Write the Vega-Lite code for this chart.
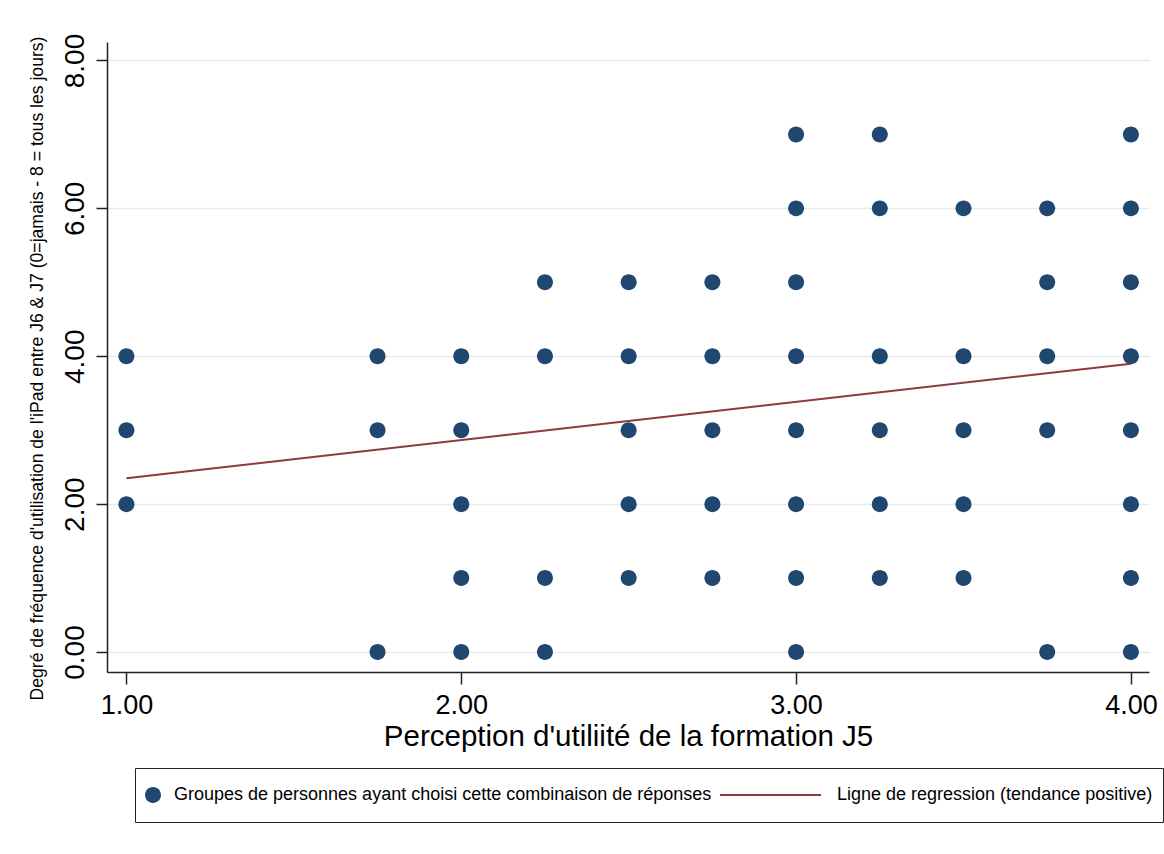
{
  "$schema": "https://vega.github.io/schema/vega-lite/v6.json",
  "width": 1042,
  "height": 630,
  "autosize": "none",
  "padding": {"left": 107, "top": 42, "right": 15, "bottom": 182},
  "background": "white",
  "config": {
    "view": {"stroke": null},
    "font": "Liberation Sans",
    "legend": {
      "title": null,
      "orient": "none",
      "legendX": 28,
      "legendY": 726,
      "direction": "horizontal",
      "columns": 2,
      "columnPadding": 8,
      "padding": 10,
      "strokeColor": "#222222",
      "fillColor": "#ffffff",
      "labelFontSize": 18,
      "labelColor": "#000000",
      "labelLimit": 0,
      "labelOffset": 4,
      "symbolSize": 1156,
      "symbolStrokeWidth": 0,
      "symbolOffset": -9,
      "symbolOpacity": 1
    }
  },
  "datasets": {
    "points": [
      {"x": 1.0, "y": 2, "serie": "Groupes de personnes ayant choisi cette combinaison de réponses"},
      {"x": 1.0, "y": 3, "serie": "Groupes de personnes ayant choisi cette combinaison de réponses"},
      {"x": 1.0, "y": 4, "serie": "Groupes de personnes ayant choisi cette combinaison de réponses"},
      {"x": 1.75, "y": 0, "serie": "Groupes de personnes ayant choisi cette combinaison de réponses"},
      {"x": 1.75, "y": 3, "serie": "Groupes de personnes ayant choisi cette combinaison de réponses"},
      {"x": 1.75, "y": 4, "serie": "Groupes de personnes ayant choisi cette combinaison de réponses"},
      {"x": 2.0, "y": 0, "serie": "Groupes de personnes ayant choisi cette combinaison de réponses"},
      {"x": 2.0, "y": 1, "serie": "Groupes de personnes ayant choisi cette combinaison de réponses"},
      {"x": 2.0, "y": 2, "serie": "Groupes de personnes ayant choisi cette combinaison de réponses"},
      {"x": 2.0, "y": 3, "serie": "Groupes de personnes ayant choisi cette combinaison de réponses"},
      {"x": 2.0, "y": 4, "serie": "Groupes de personnes ayant choisi cette combinaison de réponses"},
      {"x": 2.25, "y": 0, "serie": "Groupes de personnes ayant choisi cette combinaison de réponses"},
      {"x": 2.25, "y": 1, "serie": "Groupes de personnes ayant choisi cette combinaison de réponses"},
      {"x": 2.25, "y": 4, "serie": "Groupes de personnes ayant choisi cette combinaison de réponses"},
      {"x": 2.25, "y": 5, "serie": "Groupes de personnes ayant choisi cette combinaison de réponses"},
      {"x": 2.5, "y": 1, "serie": "Groupes de personnes ayant choisi cette combinaison de réponses"},
      {"x": 2.5, "y": 2, "serie": "Groupes de personnes ayant choisi cette combinaison de réponses"},
      {"x": 2.5, "y": 3, "serie": "Groupes de personnes ayant choisi cette combinaison de réponses"},
      {"x": 2.5, "y": 4, "serie": "Groupes de personnes ayant choisi cette combinaison de réponses"},
      {"x": 2.5, "y": 5, "serie": "Groupes de personnes ayant choisi cette combinaison de réponses"},
      {"x": 2.75, "y": 1, "serie": "Groupes de personnes ayant choisi cette combinaison de réponses"},
      {"x": 2.75, "y": 2, "serie": "Groupes de personnes ayant choisi cette combinaison de réponses"},
      {"x": 2.75, "y": 3, "serie": "Groupes de personnes ayant choisi cette combinaison de réponses"},
      {"x": 2.75, "y": 4, "serie": "Groupes de personnes ayant choisi cette combinaison de réponses"},
      {"x": 2.75, "y": 5, "serie": "Groupes de personnes ayant choisi cette combinaison de réponses"},
      {"x": 3.0, "y": 0, "serie": "Groupes de personnes ayant choisi cette combinaison de réponses"},
      {"x": 3.0, "y": 1, "serie": "Groupes de personnes ayant choisi cette combinaison de réponses"},
      {"x": 3.0, "y": 2, "serie": "Groupes de personnes ayant choisi cette combinaison de réponses"},
      {"x": 3.0, "y": 3, "serie": "Groupes de personnes ayant choisi cette combinaison de réponses"},
      {"x": 3.0, "y": 4, "serie": "Groupes de personnes ayant choisi cette combinaison de réponses"},
      {"x": 3.0, "y": 5, "serie": "Groupes de personnes ayant choisi cette combinaison de réponses"},
      {"x": 3.0, "y": 6, "serie": "Groupes de personnes ayant choisi cette combinaison de réponses"},
      {"x": 3.0, "y": 7, "serie": "Groupes de personnes ayant choisi cette combinaison de réponses"},
      {"x": 3.25, "y": 1, "serie": "Groupes de personnes ayant choisi cette combinaison de réponses"},
      {"x": 3.25, "y": 2, "serie": "Groupes de personnes ayant choisi cette combinaison de réponses"},
      {"x": 3.25, "y": 3, "serie": "Groupes de personnes ayant choisi cette combinaison de réponses"},
      {"x": 3.25, "y": 4, "serie": "Groupes de personnes ayant choisi cette combinaison de réponses"},
      {"x": 3.25, "y": 6, "serie": "Groupes de personnes ayant choisi cette combinaison de réponses"},
      {"x": 3.25, "y": 7, "serie": "Groupes de personnes ayant choisi cette combinaison de réponses"},
      {"x": 3.5, "y": 1, "serie": "Groupes de personnes ayant choisi cette combinaison de réponses"},
      {"x": 3.5, "y": 2, "serie": "Groupes de personnes ayant choisi cette combinaison de réponses"},
      {"x": 3.5, "y": 3, "serie": "Groupes de personnes ayant choisi cette combinaison de réponses"},
      {"x": 3.5, "y": 4, "serie": "Groupes de personnes ayant choisi cette combinaison de réponses"},
      {"x": 3.5, "y": 6, "serie": "Groupes de personnes ayant choisi cette combinaison de réponses"},
      {"x": 3.75, "y": 0, "serie": "Groupes de personnes ayant choisi cette combinaison de réponses"},
      {"x": 3.75, "y": 3, "serie": "Groupes de personnes ayant choisi cette combinaison de réponses"},
      {"x": 3.75, "y": 4, "serie": "Groupes de personnes ayant choisi cette combinaison de réponses"},
      {"x": 3.75, "y": 5, "serie": "Groupes de personnes ayant choisi cette combinaison de réponses"},
      {"x": 3.75, "y": 6, "serie": "Groupes de personnes ayant choisi cette combinaison de réponses"},
      {"x": 4.0, "y": 0, "serie": "Groupes de personnes ayant choisi cette combinaison de réponses"},
      {"x": 4.0, "y": 1, "serie": "Groupes de personnes ayant choisi cette combinaison de réponses"},
      {"x": 4.0, "y": 2, "serie": "Groupes de personnes ayant choisi cette combinaison de réponses"},
      {"x": 4.0, "y": 3, "serie": "Groupes de personnes ayant choisi cette combinaison de réponses"},
      {"x": 4.0, "y": 4, "serie": "Groupes de personnes ayant choisi cette combinaison de réponses"},
      {"x": 4.0, "y": 5, "serie": "Groupes de personnes ayant choisi cette combinaison de réponses"},
      {"x": 4.0, "y": 6, "serie": "Groupes de personnes ayant choisi cette combinaison de réponses"},
      {"x": 4.0, "y": 7, "serie": "Groupes de personnes ayant choisi cette combinaison de réponses"}
    ],
    "fit": [
      {"x": 1.0, "y": 2.35, "serie": "Ligne de regression (tendance positive)"},
      {"x": 4.0, "y": 3.9, "serie": "Ligne de regression (tendance positive)"}
    ]
  },
  "layer": [
    {
      "data": {"name": "points"},
      "mark": {"type": "point", "filled": true, "size": 1156, "opacity": 1},
      "encoding": {
        "x": {
          "field": "x",
          "type": "quantitative",
          "scale": {"domain": [0.942, 4.054], "nice": false, "zero": false},
          "axis": {
            "values": [1, 2, 3, 4],
            "format": ".2f",
            "grid": false,
            "domainColor": "#222222",
            "domainWidth": 1.5,
            "tickColor": "#222222",
            "tickWidth": 1.5,
            "tickSize": 12,
            "labelFontSize": 27,
            "labelColor": "#000000",
            "labelPadding": 8,
            "title": "Perception d'utiliité de la formation J5",
            "titleFontSize": 29.5,
            "titleFontWeight": "normal",
            "titleColor": "#000000",
            "titlePadding": 4
          }
        },
        "y": {
          "field": "y",
          "type": "quantitative",
          "scale": {"domain": [-0.27, 8.25], "nice": false, "zero": false},
          "axis": {
            "values": [0, 2, 4, 6, 8],
            "format": ".2f",
            "grid": true,
            "gridColor": "#e4ebef",
            "gridWidth": 1.5,
            "domainColor": "#222222",
            "domainWidth": 1.5,
            "tickColor": "#222222",
            "tickWidth": 1.5,
            "tickSize": 11,
            "labelAngle": -90,
            "labelAlign": "center",
            "labelBaseline": "alphabetic",
            "labelFontSize": 28,
            "labelColor": "#000000",
            "labelPadding": 13,
            "title": "Degré de fréquence d'utilisation de l'iPad entre J6 & J7 (0=jamais - 8 = tous les jours)",
            "titleFontSize": 17.6,
            "titleFontWeight": "normal",
            "titleColor": "#000000",
            "titlePadding": 15,
            "titleY": 326
          }
        },
        "color": {
          "field": "serie",
          "type": "nominal",
          "scale": {
            "domain": [
              "Groupes de personnes ayant choisi cette combinaison de réponses",
              "Ligne de regression (tendance positive)"
            ],
            "range": ["#1f4770", "#8f3a3c"]
          },
          "legend": {"title": null}
        },
        "shape": {
          "field": "serie",
          "type": "nominal",
          "scale": {
            "domain": [
              "Groupes de personnes ayant choisi cette combinaison de réponses",
              "Ligne de regression (tendance positive)"
            ],
            "range": [
              "M0,1M-0.47,0A0.47,0.47 0 1,0 0.47,0A0.47,0.47 0 1,0 -0.47,0Z",
              "M0,1M-5.647,-0.059H0.294V0.059H-5.647Z"
            ]
          },
          "legend": {"title": null}
        }
      }
    },
    {
      "data": {"name": "fit"},
      "mark": {"type": "line", "strokeWidth": 2},
      "encoding": {
        "x": {"field": "x", "type": "quantitative"},
        "y": {"field": "y", "type": "quantitative"},
        "color": {"field": "serie", "type": "nominal", "legend": null}
      }
    }
  ]
}
